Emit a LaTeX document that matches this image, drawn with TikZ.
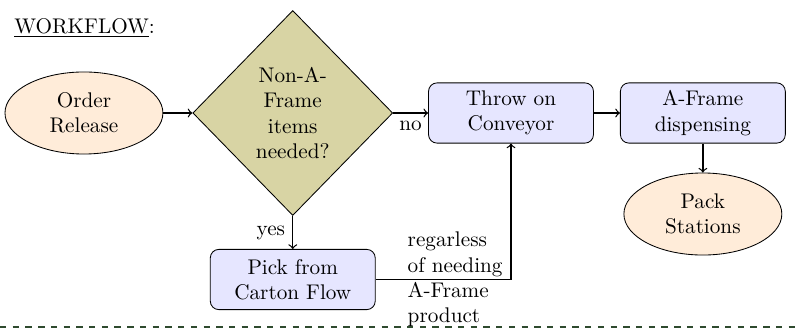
\documentclass[tikz,border=0pt]{standalone}
\usepackage{xcolor}
\usepackage{tikz}
\usetikzlibrary{positioning, shapes.geometric}
\definecolor{startFill}{HTML}{FFECD9}
\definecolor{procFill}{HTML}{E6E6FF}
\definecolor{decFill}{HTML}{D8D4A4}
\definecolor{sepLine}{HTML}{2E4A2E}
\begin{document}
\begin{tikzpicture}[term/.style={draw, ellipse, fill=startFill, minimum width=74.5pt, minimum height=38.7pt, align=center, inner sep=1pt},proc/.style={draw, rounded corners=4pt, fill=procFill, minimum width=77.8pt, minimum height=28.4pt, align=center, inner sep=1pt},dec/.style={draw, diamond, fill=decFill, minimum width=94.3pt, minimum height=96.7pt, align=center, inner sep=0pt},flow/.style={->, semithick}]
\useasboundingbox (0,0) rectangle (376.9pt,-158pt);
\node[anchor=base west, inner sep=0pt] (title) at (6.6pt,-15.6pt) {\underline{WORKFLOW}:};
\node[term] (order) at (39.6pt,-53.3pt) {Order\\Release};
\node[dec, right=13.7pt of order] (check) {Non-A-\\Frame\\items\\needed?};
\node[proc, right=16.5pt of check] (throw) {Throw on\\Conveyor};
\node[proc, right=12.3pt of throw] (aframe) {A-Frame\\dispensing};
\node[term, below=13.7pt of aframe] (pack) {Pack\\Stations};
\node[proc, below=15.6pt of check] (pick) {Pick from\\Carton Flow};
\draw[flow] (order) -- (check);
\draw[flow] (check) -- node[midway, below] {no} (throw);
\draw[flow] (throw) -- (aframe);
\draw[flow] (aframe) -- (pack);
\draw[flow] (check) -- node[midway, left] {yes} (pick);
\draw[flow] (pick.east) -| node[pos=0.09, anchor=west, align=left] {regarless\\of needing\\A-Frame\\product} (throw.south);
\coordinate (sepL) at (0,-154.2pt);
\coordinate (sepR) at (376.9pt,-154.2pt);
\draw[dashed, thick, sepLine] (sepL) -- (sepR);
\end{tikzpicture}
\end{document}
